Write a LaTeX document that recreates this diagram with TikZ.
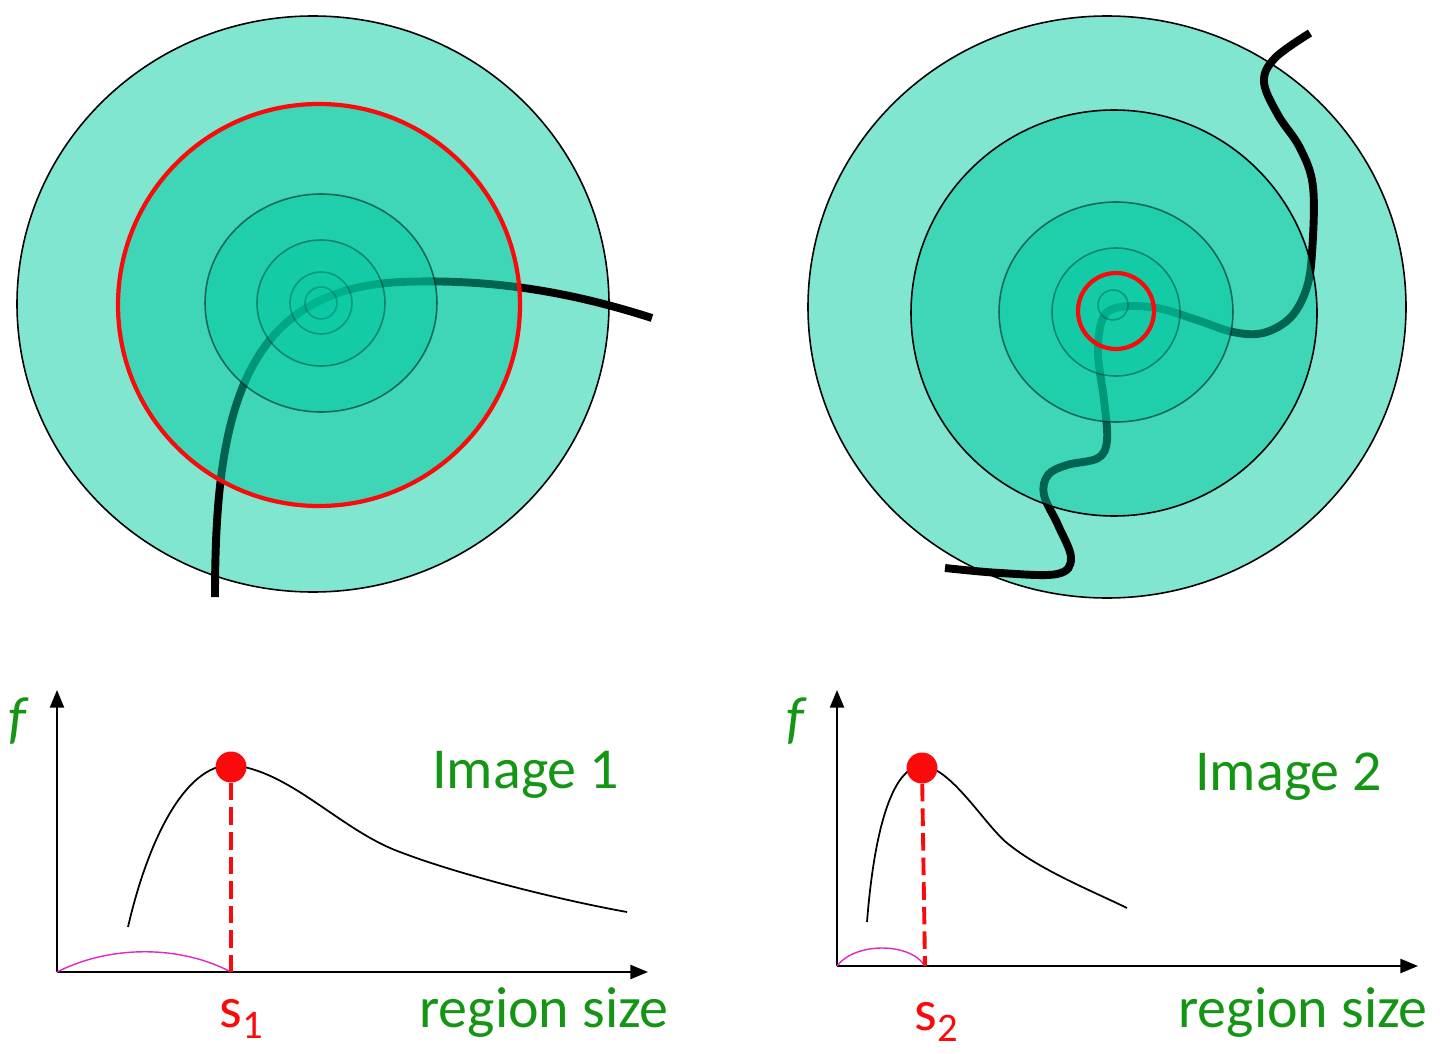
\documentclass[tikz,border=0pt]{standalone}
\usepackage{fontspec}
\setmainfont{Carlito}
\usetikzlibrary{arrows.meta}
\definecolor{ringout}{RGB}{128,230,208}
\definecolor{ringin}{RGB}{0,200,160}
\definecolor{lblgreen}{RGB}{20,150,20}
\definecolor{peakred}{RGB}{250,10,10}
\definecolor{arcpink}{RGB}{225,40,190}
\newcommand{\lblsize}{\fontsize{33}{40}\selectfont}
\newcommand{\sz}[1]{s\textsubscript{#1}}

\tikzset{
  disc/.style={draw=black, fill=ringout, line width=0.9pt},
  band/.style={draw=black, fill=ringin, fill opacity=0.5, line width=0.9pt},
  core/.style={draw=black, fill=ringin, fill opacity=#1, draw opacity=#1, line width=0.9pt},
  trail/.style={line width=4.5pt},
  redring/.style={draw=peakred, line width=2.4pt},
  axis/.style={line width=1.1pt, -{Triangle[length=10pt,width=8pt]}},
  fcurve/.style={line width=1pt},
  pinkarc/.style={draw=arcpink, line width=0.8pt},
  drop/.style={draw=peakred, line width=2.2pt, dash pattern=on 10pt off 4pt},
  dot/.style={circle, fill=peakred, minimum size=0.62cm, inner sep=0pt},
  lbl/.style={text=lblgreen, font=\lblsize, anchor=base west, inner sep=0pt},
  slbl/.style={text=peakred, font=\lblsize, anchor=base west, inner sep=0pt}
}

\begin{document}
\begin{tikzpicture}[x=0.02cm, y=-0.02cm]
  \useasboundingbox (0,0) rectangle (1440,1054);
  % 왼쪽 원판 — 곡선은 바깥 원 위, 안쪽 원들 아래
  \draw[disc] (313,304) ellipse [x radius=296, y radius=288];
  \draw[trail] (215,597) .. controls (215,420) and (240,290) .. (400,282)
    .. controls (500,278) and (580,295) .. (652,318);
  \draw[band, redring] (319,305) circle [radius=201];
  \foreach \rx/\ry/\op in {116/109/0.5, 64/63/0.35, 31/31/0.25, 16/16/0.2}
    { \draw[core=\op] (321,303) ellipse [x radius=\rx, y radius=\ry]; }

  % 오른쪽 원판 — 구불구불한 곡선
  \draw[disc] (1107,307) ellipse [x radius=299, y radius=291];
  \draw[trail] plot[smooth, tension=0.6] coordinates {
    (1310,33) (1275,58) (1264,82) (1278,115) (1300,148) (1313,187)
    (1312,253) (1306,290) (1290,318) (1263,333) (1233,332) (1197,320)
    (1157,308) (1120,307) (1103,318) (1098,353) (1104,400) (1107,440)
    (1098,458) (1067,465) (1048,475) (1044,495) (1058,525) (1071,558)
    (1057,574) (1000,573) (945,568)};
  \draw[band] (1114,313) ellipse [x radius=203, y radius=203];
  \foreach \rx/\ry/\op in {117/110/0.5, 64/64/0.35}
    { \draw[core=\op] (1116,312) ellipse [x radius=\rx, y radius=\ry]; }
  \draw[core=0.25] (1113,305) circle [radius=15];
  \draw[redring] (1116,311) circle [radius=38];

  % 왼쪽 그래프
  \coordinate (o1) at (57,972);
  \coordinate (ytop1) at (57,690);
  \coordinate (xend1) at (648,972);
  \coordinate (s1foot) at (231,972);
  \draw[axis] (o1) -- (ytop1);
  \draw[axis] (o1) -- (xend1);
  \draw[fcurve] (128,927) .. controls (148,840) and (185,765) .. (231,765)
    .. controls (290,770) and (340,830) .. (400,852)
    .. controls (460,875) and (560,900) .. (627,912);
  \draw[pinkarc] (o1) .. controls (110,945) and (180,945) .. (s1foot);
  \node[dot] (peak1) at (231,767) {};
  \draw[drop] (peak1) -- (s1foot);
  \node[lbl] (f1) at (8,737) {\textit{f}};
  \node[lbl] (img1) at (432,788) {Image 1};
  \node[lbl] (rs1) at (419,1027) {region size};
  \node[slbl] (s1) at (219,1027) {\sz{1}};

  % 오른쪽 그래프
  \coordinate (o2) at (837,966);
  \coordinate (ytop2) at (837,690);
  \coordinate (xend2) at (1418,966);
  \coordinate (s2foot) at (925,966);
  \draw[axis] (o2) -- (ytop2);
  \draw[axis] (o2) -- (xend2);
  \draw[fcurve] (867,922) .. controls (875,820) and (895,766) .. (922,766)
    .. controls (950,766) and (985,825) .. (1007,843)
    .. controls (1040,870) and (1090,890) .. (1127,908);
  \draw[pinkarc] (o2) .. controls (855,942) and (910,942) .. (s2foot);
  \node[dot] (peak2) at (922,768) {};
  \draw[drop] (peak2) -- (s2foot);
  \node[lbl] (f2) at (786,737) {\textit{f}};
  \node[lbl] (img2) at (1195,790) {Image 2};
  \node[lbl] (rs2) at (1178,1027) {region size};
  \node[slbl] (s2) at (914,1030) {\sz{2}};
\end{tikzpicture}
\end{document}
